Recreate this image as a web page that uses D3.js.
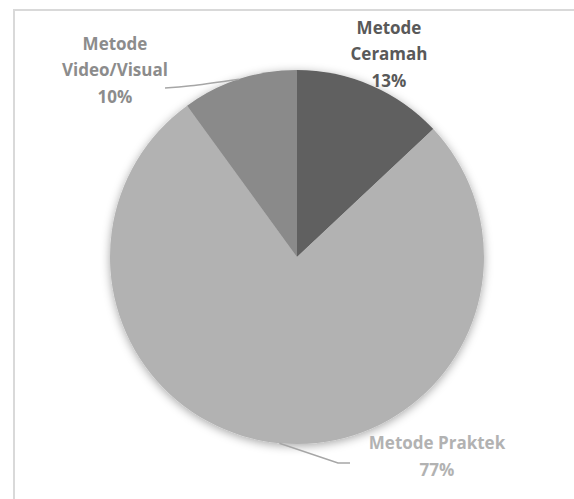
<!DOCTYPE html>
<html><head><meta charset="utf-8">
<script src="https://cdn.jsdelivr.net/npm/d3@7"></script>
<style>html,body{margin:0;padding:0;background:#fff;}svg{display:block;}</style>
</head><body>
<svg id="chart" width="574" height="499"></svg>
<script>
const categories = ["Metode Ceramah", "Metode Praktek", "Metode Video/Visual"];
const values = [13, 77, 10];
const colors = ["#606060", "#b2b2b2", "#8a8a8a"];
const labelColors = ["#595959", "#b2b2b2", "#8c8c8c"];
const labelLines = [["Metode", "Ceramah", "13%"], ["Metode Praktek", "77%"], ["Metode", "Video/Visual", "10%"]];

const svg = d3.select("#chart");
svg.append("rect").attr("x", 14).attr("y", 10).attr("width", 700).attr("height", 700)
  .attr("fill", "#fff").attr("stroke", "#d9d9d9").attr("stroke-width", 2);

const defs = svg.append("defs");
const f = defs.append("filter").attr("id", "sh").attr("x", "-20%").attr("y", "-20%").attr("width", "140%").attr("height", "140%");
f.append("feDropShadow").attr("dx", 0).attr("dy", 2).attr("stdDeviation", 5)
  .attr("flood-color", "#000").attr("flood-opacity", 0.35);

const cx = 297, cy = 257, r = 187;
const pie = d3.pie().sort(null).value(d => d)(values);
const arc = d3.arc().innerRadius(0).outerRadius(r);
const g = svg.append("g").attr("transform", `translate(${cx},${cy})`);
const slices = g.append("g").attr("filter", "url(#sh)");
slices.selectAll("path").data(pie).join("path")
  .attr("d", arc).attr("fill", (d, i) => colors[i]);

// leader lines from slice midpoints
const edge = d => {
  const a = (d.startAngle + d.endAngle) / 2;
  return [cx + r * Math.sin(a), cy - r * Math.cos(a)];
};
const lineGen = d3.line();
const p1 = edge(pie[1]);
svg.append("path").attr("d", lineGen([p1, [338, 463], [350, 463]]))
  .attr("fill", "none").attr("stroke", "#a6a6a6").attr("stroke-width", 1.5);
const p2 = edge(pie[2]);
svg.append("path").attr("d", d3.line().curve(d3.curveBasis)([[165, 88], [185, 87], p2]))
  .attr("fill", "none").attr("stroke", "#a6a6a6").attr("stroke-width", 1.5);

// labels
const labelPos = [[389, 28], [437, 443], [115, 44]];
const lineH = [26.5, 27.5, 26.5];
labelLines.forEach((lines, i) => {
  const t = svg.append("text").attr("text-anchor", "middle")
    .attr("font-family", "'Open Sans', sans-serif").attr("font-weight", "bold")
    .attr("font-size", 17).attr("fill", labelColors[i]);
  lines.forEach((s, j) => {
    t.append("tspan").attr("x", labelPos[i][0]).attr("y", labelPos[i][1] + j * lineH[i])
      .attr("dy", "0.35em").text(s);
  });
});
</script>
</body></html>
